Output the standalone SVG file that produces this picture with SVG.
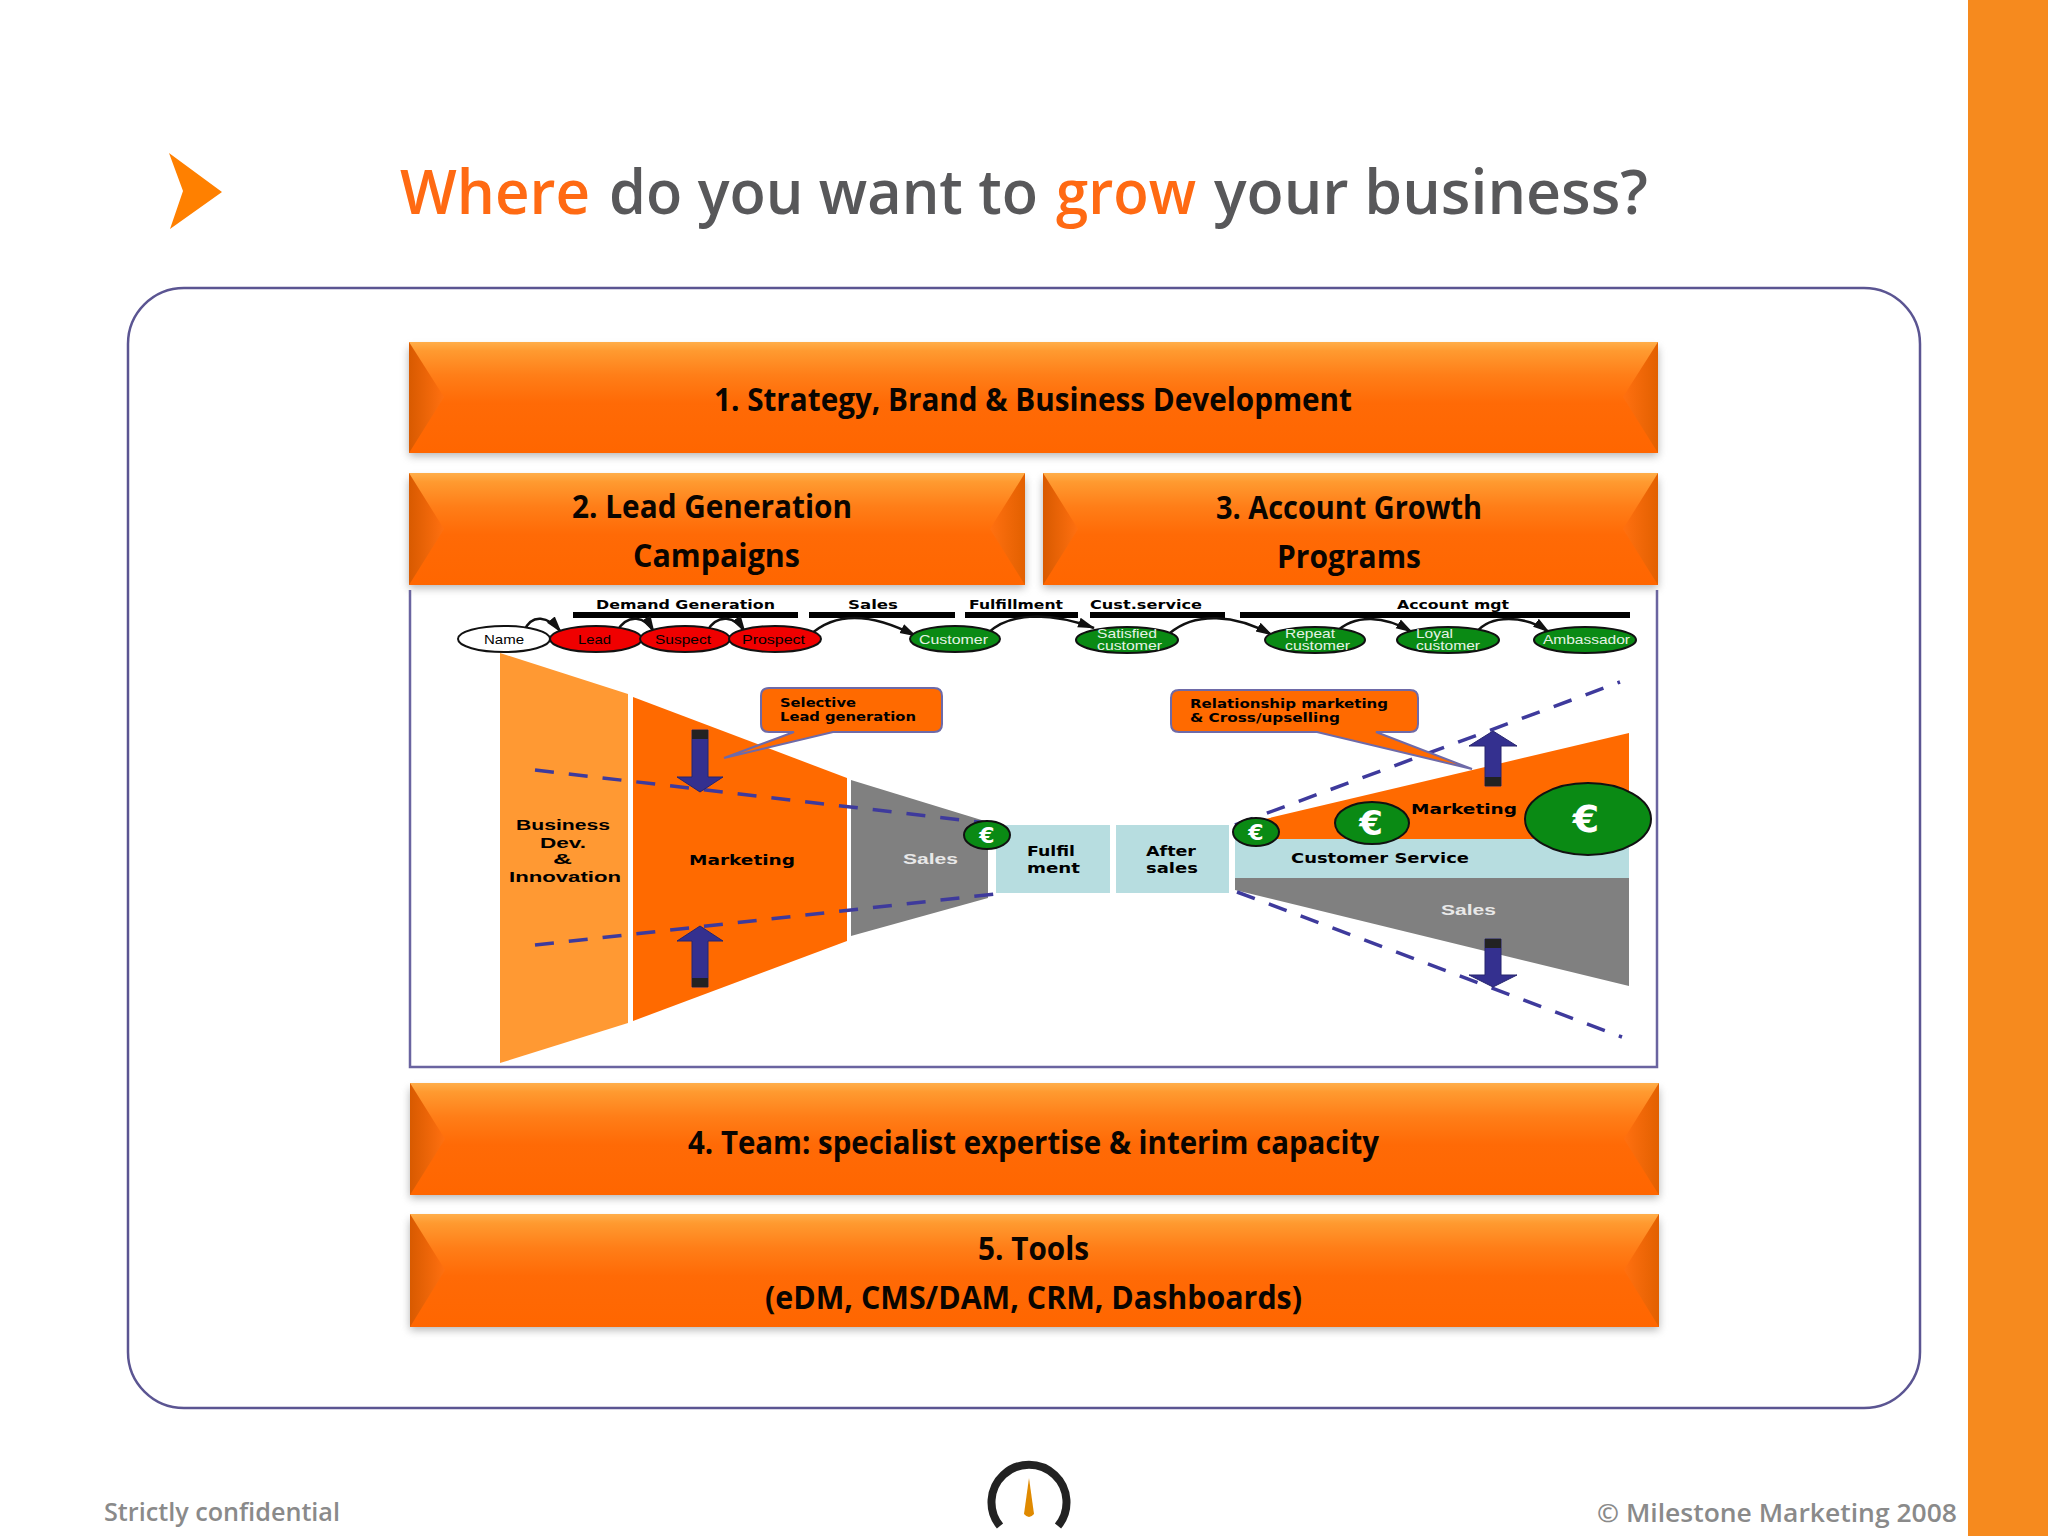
<svg xmlns="http://www.w3.org/2000/svg" width="2048" height="1536" viewBox="0 0 2048 1536">
<style>
text{font-family:"Liberation Sans",Arial,sans-serif}
.title{font-family:"Open Sans","Liberation Sans",sans-serif;font-size:62px;font-weight:600}
.or{fill:#FF6A13}.gr{fill:#58585A}
.bar{font-family:"Open Sans","Liberation Sans",sans-serif;font-size:32px;font-weight:700;fill:#0a0500}
.foot{font-family:"Open Sans","Liberation Sans",sans-serif;font-size:26px;font-weight:600;fill:#8a8a8a}
.b{font-family:"DejaVu Sans",sans-serif;font-weight:700;fill:#000}
.s14{font-size:14px}.s13{font-size:13px}.s12{font-size:12px}
.el{font-size:13px;fill:#000}.elw{font-size:13px;fill:#e6f3e6}
.gn{fill:#0A8A14;stroke:#111;stroke-width:2}
.rd{fill:#F00000;stroke:#111;stroke-width:2}
.wh{fill:#fff;stroke:#111;stroke-width:2}
.eu{font-family:"DejaVu Sans",sans-serif;font-weight:700;fill:#fff;text-anchor:middle}
.dash{fill:none;stroke:#3E3A9C;stroke-width:3.5;stroke-dasharray:19 15}
.rule{fill:#000}
.cv{fill:none;stroke:#111;stroke-width:2.5;marker-end:url(#ah)}
.blue{fill:#34308F;stroke:#26246e;stroke-width:1}
.cal{fill:#FF6A00;stroke:#6E6AA8;stroke-width:2}
.teal{fill:#B7DDE0}
</style>
<defs>
<marker id="ah" markerUnits="userSpaceOnUse" markerWidth="18" markerHeight="12" refX="16" refY="6" orient="auto"><path d="M0 1L17 6L0 11z" fill="#111"/></marker>
<linearGradient id="g" x1="0" y1="0" x2="0" y2="1"><stop offset="0" stop-color="#FFAE4A"/><stop offset=".08" stop-color="#FF9A30"/><stop offset=".3" stop-color="#FF7E18"/><stop offset=".55" stop-color="#FF6A06"/><stop offset="1" stop-color="#FF6600"/></linearGradient>
<linearGradient id="gl" x1="0" y1="0" x2="1" y2="0"><stop offset="0" stop-color="#D85A00"/><stop offset="1" stop-color="#FF7010"/></linearGradient>
<linearGradient id="gr" x1="0" y1="0" x2="1" y2="0"><stop offset="0" stop-color="#FF7010"/><stop offset="1" stop-color="#E26000"/></linearGradient>
<filter id="sh" x="-2%" y="-10%" width="104%" height="130%"><feGaussianBlur stdDeviation="4"/></filter>
</defs>
<rect width="2048" height="1536" fill="#fff"/>
<rect id="sidebar" x="1968" y="0" width="80" height="1536" fill="#F68A1E"/>
<path id="bullet" d="M169 153L222 192L170 229L183 191Z" fill="#FF8000"/>
<text id="title" class="title" y="214"><tspan class="or" x="400" textLength="190" lengthAdjust="spacingAndGlyphs">Where</tspan><tspan class="gr" x="609" textLength="429" lengthAdjust="spacingAndGlyphs">do you want to</tspan><tspan class="or" x="1056" textLength="140" lengthAdjust="spacingAndGlyphs">grow</tspan><tspan class="gr" x="1214" textLength="434" lengthAdjust="spacingAndGlyphs">your business?</tspan></text>
<rect id="frame" x="128" y="288" width="1792" height="1120" rx="56" fill="none" stroke="#5B5592" stroke-width="2.5"/>

<g id="funnel-frame"><path d="M410 590V1067H1657V590" fill="#fff" stroke="#6A64A0" stroke-width="2.5"/></g>

<g id="bar1">
<rect x="409" y="348" width="1249" height="108" fill="#777" opacity=".55" filter="url(#sh)"/>
<rect x="409" y="342" width="1249" height="111" fill="url(#g)"/>
<path d="M409 342L444 397L409 453Z" fill="url(#gl)"/><path d="M1658 342L1623 397L1658 453Z" fill="url(#gr)"/>
<text class="bar" x="714" y="411" textLength="638" lengthAdjust="spacingAndGlyphs">1. Strategy, Brand &amp; Business Development</text>
</g>
<g id="bar2">
<rect x="409" y="479" width="616" height="109" fill="#777" opacity=".55" filter="url(#sh)"/>
<rect x="409" y="473" width="616" height="112" fill="url(#g)"/>
<path d="M409 473L444 529L409 585Z" fill="url(#gl)"/><path d="M1025 473L990 529L1025 585Z" fill="url(#gr)"/>
<text class="bar" x="572" y="518" textLength="280" lengthAdjust="spacingAndGlyphs">2. Lead Generation</text>
<text class="bar" x="633" y="567" textLength="167" lengthAdjust="spacingAndGlyphs">Campaigns</text>
</g>
<g id="bar3">
<rect x="1043" y="479" width="615" height="109" fill="#777" opacity=".55" filter="url(#sh)"/>
<rect x="1043" y="473" width="615" height="112" fill="url(#g)"/>
<path d="M1043 473L1078 529L1043 585Z" fill="url(#gl)"/><path d="M1658 473L1623 529L1658 585Z" fill="url(#gr)"/>
<text class="bar" x="1216" y="519" textLength="266" lengthAdjust="spacingAndGlyphs">3. Account Growth</text>
<text class="bar" x="1277" y="568" textLength="144" lengthAdjust="spacingAndGlyphs">Programs</text>
</g>
<g id="bar4">
<rect x="410" y="1089" width="1249" height="109" fill="#777" opacity=".55" filter="url(#sh)"/>
<rect x="410" y="1083" width="1249" height="112" fill="url(#g)"/>
<path d="M410 1083L445 1139L410 1195Z" fill="url(#gl)"/><path d="M1659 1083L1624 1139L1659 1195Z" fill="url(#gr)"/>
<text class="bar" x="688" y="1154" textLength="691" lengthAdjust="spacingAndGlyphs">4. Team: specialist expertise &amp; interim capacity</text>
</g>
<g id="bar5">
<rect x="410" y="1220" width="1249" height="110" fill="#777" opacity=".55" filter="url(#sh)"/>
<rect x="410" y="1214" width="1249" height="113" fill="url(#g)"/>
<path d="M410 1214L445 1270L410 1327Z" fill="url(#gl)"/><path d="M1659 1214L1624 1270L1659 1327Z" fill="url(#gr)"/>
<text class="bar" x="978" y="1260" textLength="111" lengthAdjust="spacingAndGlyphs">5. Tools</text>
<text class="bar" x="765" y="1309" textLength="537" lengthAdjust="spacingAndGlyphs">(eDM, CMS/DAM, CRM, Dashboards)</text>
</g>

<g id="phase-rules">
<rect class="rule" x="573" y="612" width="225" height="6"/><rect class="rule" x="809" y="612" width="146" height="6"/><rect class="rule" x="965" y="612" width="113" height="6"/><rect class="rule" x="1090" y="612" width="135" height="6"/><rect class="rule" x="1240" y="612" width="390" height="6"/>
<text class="b s13" x="596" y="609" textLength="179" lengthAdjust="spacingAndGlyphs">Demand Generation</text>
<text class="b s13" x="848" y="609" textLength="50" lengthAdjust="spacingAndGlyphs">Sales</text>
<text class="b s13" x="969" y="609" textLength="94" lengthAdjust="spacingAndGlyphs">Fulfillment</text>
<text class="b s13" x="1090" y="609" textLength="112" lengthAdjust="spacingAndGlyphs">Cust.service</text>
<text class="b s13" x="1397" y="609" textLength="112" lengthAdjust="spacingAndGlyphs">Account mgt</text>
</g>

<g id="connectors">
<path class="cv" d="M524 631C532 613 548 616 561 632"/>
<path class="cv" d="M617 631C628 613 645 616 654 632"/>
<path class="cv" d="M707 631C718 613 735 616 745 632"/>
<path class="cv" d="M810 635C835 612 870 612 916 636"/>
<path class="cv" d="M988 633C1010 612 1050 612 1094 628"/>
<path class="cv" d="M1170 633C1195 612 1235 614 1272 635"/>
<path class="cv" d="M1335 633C1355 613 1385 616 1412 632"/>
<path class="cv" d="M1476 633C1490 614 1525 615 1549 632"/>
</g>

<g id="n-name"><ellipse class="wh" cx="504" cy="639" rx="46" ry="13"/><text class="el" x="484" y="644" textLength="40" lengthAdjust="spacingAndGlyphs">Name</text></g>
<g id="n-lead"><ellipse class="rd" cx="596" cy="639" rx="46" ry="13"/><text class="el" x="578" y="644" textLength="33" lengthAdjust="spacingAndGlyphs">Lead</text></g>
<g id="n-suspect"><ellipse class="rd" cx="685" cy="639" rx="45" ry="13"/><text class="el" x="655" y="644" textLength="56" lengthAdjust="spacingAndGlyphs">Suspect</text></g>
<g id="n-prospect"><ellipse class="rd" cx="775" cy="639" rx="46" ry="13"/><text class="el" x="742" y="644" textLength="63" lengthAdjust="spacingAndGlyphs">Prospect</text></g>
<g id="n-customer"><ellipse class="gn" cx="955" cy="639" rx="45" ry="13"/><text class="elw" x="919" y="644" textLength="69" lengthAdjust="spacingAndGlyphs">Customer</text></g>
<g id="n-satisfied"><ellipse class="gn" cx="1127" cy="640" rx="51" ry="13"/><text class="elw" x="1097" y="638" textLength="60" lengthAdjust="spacingAndGlyphs">Satisfied</text><text class="elw" x="1097" y="650" textLength="65" lengthAdjust="spacingAndGlyphs">customer</text></g>
<g id="n-repeat"><ellipse class="gn" cx="1315" cy="640" rx="50" ry="13"/><text class="elw" x="1285" y="638" textLength="50" lengthAdjust="spacingAndGlyphs">Repeat</text><text class="elw" x="1285" y="650" textLength="65" lengthAdjust="spacingAndGlyphs">customer</text></g>
<g id="n-loyal"><ellipse class="gn" cx="1448" cy="640" rx="51" ry="13"/><text class="elw" x="1416" y="638" textLength="37" lengthAdjust="spacingAndGlyphs">Loyal</text><text class="elw" x="1416" y="650" textLength="64" lengthAdjust="spacingAndGlyphs">customer</text></g>
<g id="n-ambassador"><ellipse class="gn" cx="1585" cy="640" rx="51" ry="13"/><text class="elw" x="1543" y="644" textLength="87" lengthAdjust="spacingAndGlyphs">Ambassador</text></g>

<g id="funnel-business"><path d="M500 653L628 694V1023L500 1063Z" fill="#FF9933"/>
<g class="b s14"><text x="516" y="830" textLength="94" lengthAdjust="spacingAndGlyphs">Business</text><text x="540" y="848" textLength="46" lengthAdjust="spacingAndGlyphs">Dev.</text><text x="553" y="864" textLength="19" lengthAdjust="spacingAndGlyphs">&amp;</text><text x="509" y="882" textLength="112" lengthAdjust="spacingAndGlyphs">Innovation</text></g></g>
<g id="funnel-marketing"><path d="M633 697L847 778V941L633 1021Z" fill="#FF6A00"/><text class="b s14" x="689" y="865" textLength="106" lengthAdjust="spacingAndGlyphs">Marketing</text></g>
<g id="funnel-sales"><path d="M851 780L988 822V898L851 936Z" fill="#808080"/><text x="903" y="864" font-size="15" font-weight="700" fill="#e8e8e8" textLength="55" lengthAdjust="spacingAndGlyphs">Sales</text></g>
<g id="fulfilment"><rect class="teal" x="996" y="825" width="114" height="68"/><text class="b s14" x="1027" y="856" textLength="48" lengthAdjust="spacingAndGlyphs">Fulfil</text><text class="b s14" x="1027" y="873" textLength="53" lengthAdjust="spacingAndGlyphs">ment</text></g>
<g id="after-sales"><rect class="teal" x="1116" y="825" width="113" height="68"/><text class="b s14" x="1146" y="856" textLength="50" lengthAdjust="spacingAndGlyphs">After</text><text class="b s14" x="1146" y="873" textLength="52" lengthAdjust="spacingAndGlyphs">sales</text></g>
<g id="right-marketing"><path d="M1240 839L1261 820L1629 733V839Z" fill="#FF6A00"/></g>
<g id="right-service"><rect class="teal" x="1235" y="839" width="394" height="39"/><text class="b s14" x="1291" y="863" textLength="178" lengthAdjust="spacingAndGlyphs">Customer Service</text></g>
<g id="right-sales"><path d="M1235 878H1629V986L1235 890Z" fill="#808080"/><text x="1441" y="915" font-size="15" font-weight="700" fill="#e8e8e8" textLength="55" lengthAdjust="spacingAndGlyphs">Sales</text></g>

<g id="dashes">
<path class="dash" d="M535 770L1004 825"/><path class="dash" d="M535 945L1004 893"/>
<path class="dash" d="M1235 825L1620 682"/><path class="dash" d="M1237 892L1622 1037"/>
</g>
<g id="arrows">
<path class="blue" d="M692 730H708V777H723L700 792L677 777H692Z"/><rect x="692" y="730" width="16" height="9" fill="#222"/>
<path class="blue" d="M692 987H708V941H723L700 926L677 941H692Z"/><rect x="692" y="978" width="16" height="9" fill="#222"/>
<path class="blue" d="M1485 786H1501V746H1517L1493 731L1469 746H1485Z"/><rect x="1485" y="777" width="16" height="9" fill="#222"/>
<path class="blue" d="M1485 939H1501V975H1517L1493 987L1469 975H1485Z"/><rect x="1485" y="939" width="16" height="9" fill="#222"/>
</g>
<g id="callout-1"><path class="cal" d="M769 688H934Q942 688 942 696V724Q942 732 934 732H833L724 758L794 732H769Q761 732 761 724V696Q761 688 769 688Z"/><text class="b s13" x="780" y="707" textLength="76" lengthAdjust="spacingAndGlyphs">Selective</text><text class="b s13" x="780" y="721" textLength="136" lengthAdjust="spacingAndGlyphs">Lead generation</text></g>
<g id="callout-2"><path class="cal" d="M1179 690H1410Q1418 690 1418 698V724Q1418 732 1410 732H1376L1472 769L1317 732H1179Q1171 732 1171 724V698Q1171 690 1179 690Z"/><text class="b s13" x="1190" y="708" textLength="198" lengthAdjust="spacingAndGlyphs">Relationship marketing</text><text class="b s13" x="1190" y="722" textLength="150" lengthAdjust="spacingAndGlyphs">&amp; Cross/upselling</text></g>
<text class="b s14" id="right-marketing-label" x="1411" y="814" textLength="106" lengthAdjust="spacingAndGlyphs">Marketing</text>
<g id="euro-1"><ellipse class="gn" cx="987" cy="835" rx="23" ry="14"/><text class="eu" x="987" y="843" font-size="22">€</text></g>
<g id="euro-2"><ellipse class="gn" cx="1256" cy="832" rx="23" ry="14"/><text class="eu" x="1256" y="840" font-size="22">€</text></g>
<g id="euro-3"><ellipse class="gn" cx="1372" cy="823" rx="37" ry="21"/><text class="eu" x="1371" y="835" font-size="34">€</text></g>
<g id="euro-4"><ellipse class="gn" cx="1588" cy="819" rx="63" ry="36"/><text class="eu" x="1586" y="832" font-size="38">€</text></g>

<text id="foot-left" class="foot" x="104" y="1521" textLength="236" lengthAdjust="spacingAndGlyphs">Strictly confidential</text>
<text id="foot-right" class="foot" x="1597" y="1522" textLength="360" lengthAdjust="spacingAndGlyphs">©  Milestone Marketing 2008</text>
<g id="gauge"><path d="M1000 1526A37.5 37.5 0 1 1 1058 1526" fill="none" stroke="#222" stroke-width="8"/><path d="M1029 1478L1034 1514Q1029 1520 1024 1514Z" fill="#E08A00"/></g>
</svg>
